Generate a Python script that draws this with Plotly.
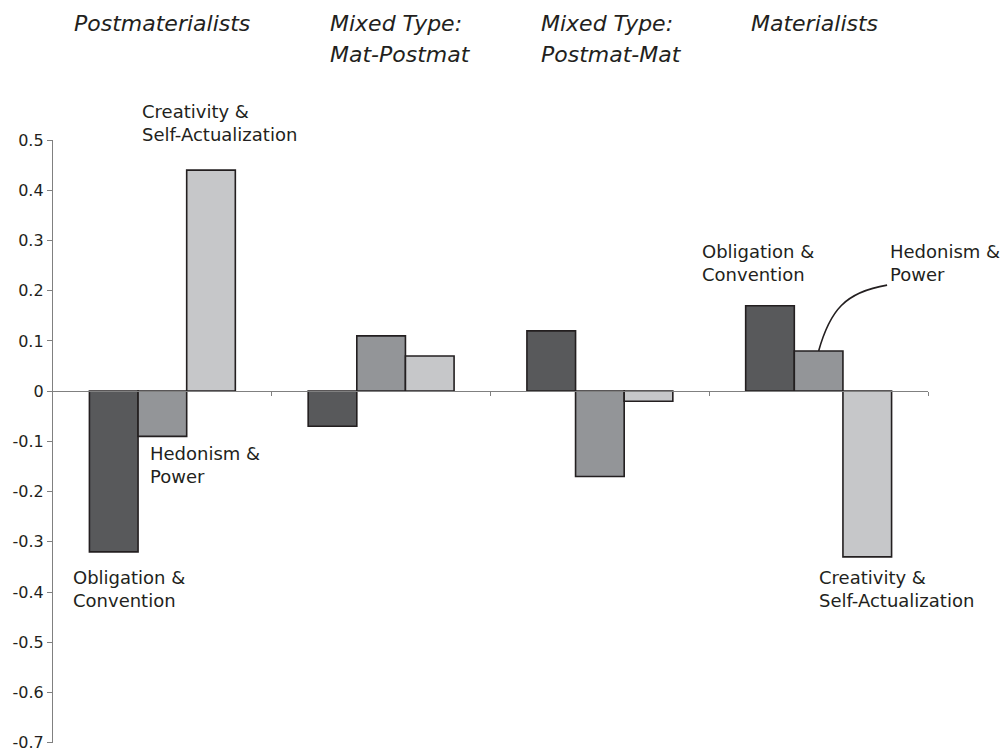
import plotly.graph_objects as go

# Value-orientation groups (x positions 0..3) and their header text
groups = ["Postmaterialists", "Mixed Type: Mat-Postmat", "Mixed Type: Postmat-Mat", "Materialists"]
group_pos = [0, 1, 2, 3]
group_header_lines = [
    ["Postmaterialists"],
    ["Mixed Type:", "Mat-Postmat"],
    ["Mixed Type:", "Postmat-Mat"],
    ["Materialists"],
]

# Mean scores per value dimension
obligation = [-0.32, -0.07, 0.12, 0.17]
hedonism = [-0.09, 0.11, -0.17, 0.08]
creativity = [0.44, 0.07, -0.02, -0.33]

series_names = ["Obligation & Convention", "Hedonism & Power", "Creativity & Self-Actualization"]
series_values = [obligation, hedonism, creativity]
series_colors = ["#58595b", "#939598", "#c6c7c9"]

y_ticks = [0.5, 0.4, 0.3, 0.2, 0.1, 0, -0.1, -0.2, -0.3, -0.4, -0.5, -0.6, -0.7]
y_min, y_max = -0.7005, 0.5


def to_paper(v):
    """Convert a y value to a fraction of the plot height."""
    return (v - y_min) / (y_max - y_min)


fig = go.Figure()
for name, vals, col in zip(series_names, series_values, series_colors):
    fig.add_trace(go.Bar(
        x=group_pos, y=vals, name=name,
        marker=dict(color=col, line=dict(color="#231f20", width=1.6)),
        showlegend=False, hoverinfo="skip",
    ))

text_font = dict(family="DejaVu Sans", size=18, color="#231f20")
title_font = dict(family="DejaVu Sans", size=22, color="#231f20")

annotations = []
# Group headers above the plot (italic)
header_x = [0.0215, 0.314, 0.5555, 0.7955]
line_y = [1.194, 1.141]
for hx, lines in zip(header_x, group_header_lines):
    for ly, line in zip(line_y, lines):
        annotations.append(dict(
            x=hx, y=ly, xref="paper", yref="paper", xanchor="left", yanchor="middle",
            text=f"<i>{line}</i>", showarrow=False, font=title_font,
        ))

# Bar labels for the two outer groups (x in group units, y in value units)
bar_labels = [
    (-0.104, 0.533, "Creativity &<br>Self-Actualization"),
    (-0.068, -0.148, "Hedonism &<br>Power"),
    (-0.420, -0.393, "Obligation &<br>Convention"),
    (2.456, 0.256, "Obligation &<br>Convention"),
    (3.315, 0.256, "Hedonism &<br>Power"),
    (2.991, -0.393, "Creativity &<br>Self-Actualization"),
]
for lx, ly, txt in bar_labels:
    annotations.append(dict(
        x=lx, y=to_paper(ly), xref="x", yref="paper", xanchor="left", yanchor="middle",
        text=txt, align="left", showarrow=False, font=text_font,
    ))

# Curved leader from the Materialists hedonism bar to its label
sx, sy = group_pos[3], hedonism[3]
leader = f"M {sx},{sy} C {sx + 0.052},0.161 {sx + 0.121},0.197 {sx + 0.313},0.211"

fig.update_layout(
    width=1002, height=751,
    margin=dict(l=53, r=74, t=140, b=8, autoexpand=False),
    paper_bgcolor="white", plot_bgcolor="white",
    barmode="group", bargap=0.333, bargroupgap=0,
    annotations=annotations,
    shapes=[dict(type="path", path=leader, xref="x", yref="y",
                 line=dict(color="#231f20", width=1.6))],
    xaxis=dict(
        range=[-0.5, 3.5], showgrid=False, zeroline=False,
        tickvals=[0.5, 1.5, 2.5, 3.5], ticktext=["", "", "", ""],
        ticks="outside", ticklen=4, tickcolor="#808080", tickwidth=1,
        showline=True, linecolor="#808080", linewidth=1.3,
        anchor="free", position=to_paper(0), automargin=False,
    ),
    yaxis=dict(
        range=[y_min, y_max], showgrid=False, zeroline=False,
        tickvals=y_ticks, ticktext=[f"{v:g}" for v in y_ticks],
        ticks="outside", ticklen=5, tickcolor="#808080", tickwidth=1,
        showline=True, linecolor="#808080", linewidth=1.3,
        ticklabeloverflow="allow", automargin=False,
        tickfont=dict(family="DejaVu Sans", size=16, color="#231f20"),
    ),
)

fig.write_html("out.html")
